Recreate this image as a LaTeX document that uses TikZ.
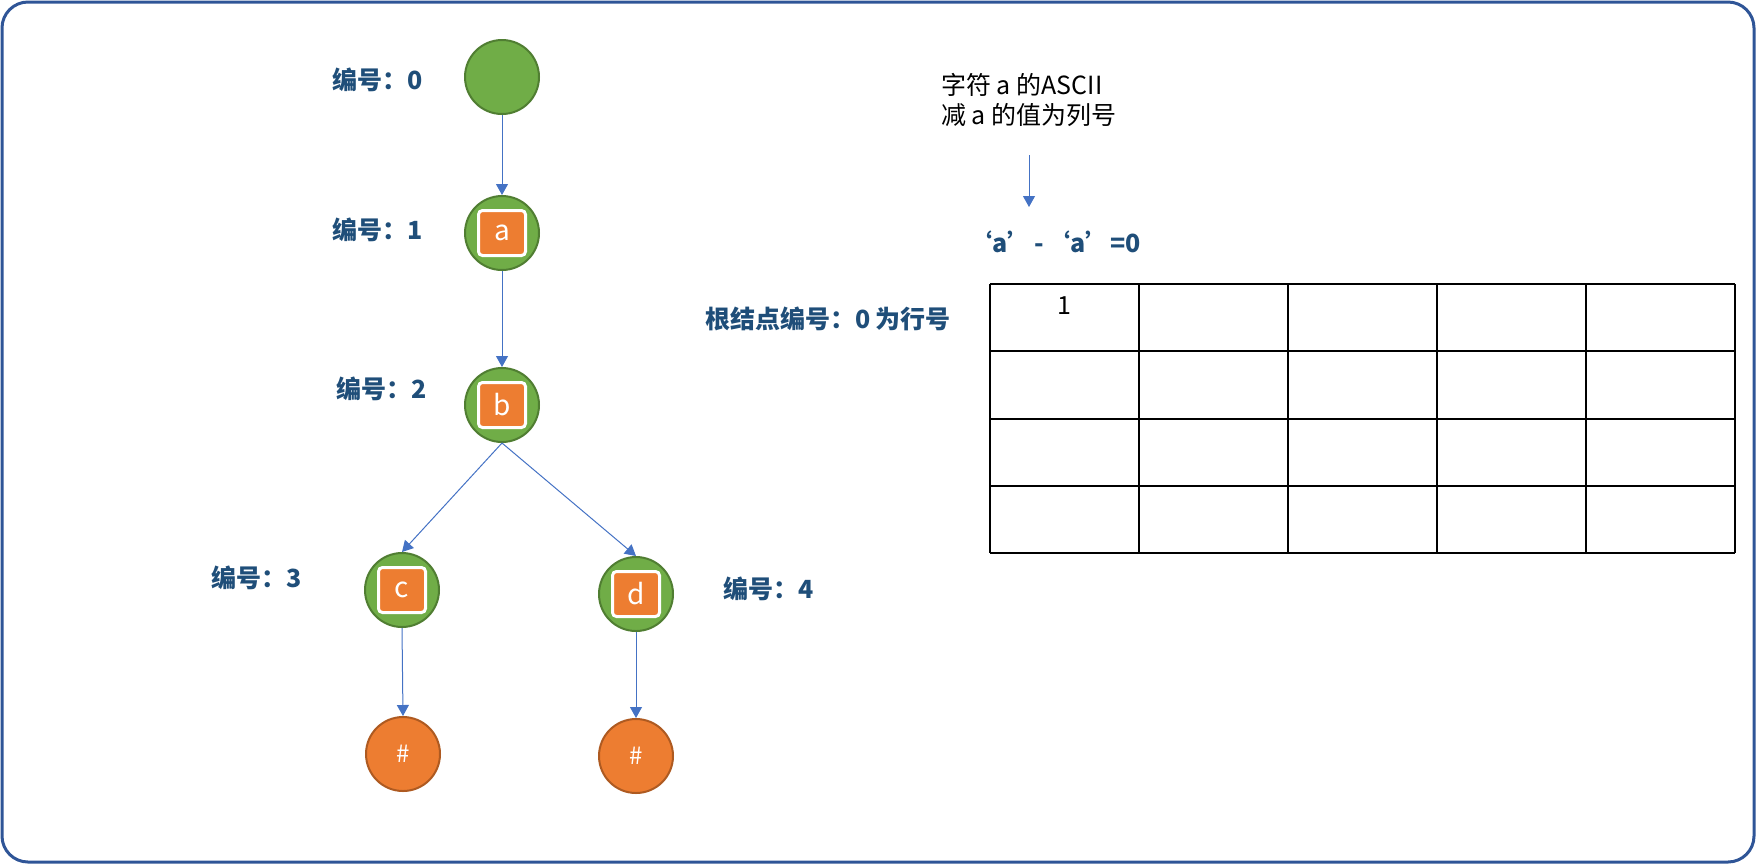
\documentclass[tikz,border=0pt]{standalone}
\usepackage{fontspec}
\setmainfont{Noto Sans CJK SC}
\usetikzlibrary{arrows.meta,positioning}
\definecolor{treegreen}{HTML}{70AD47}
\definecolor{treegreendark}{HTML}{507E32}
\definecolor{keyorange}{HTML}{ED7D31}
\definecolor{keyorangedark}{HTML}{AE5A21}
\definecolor{linkblue}{HTML}{4472C4}
\definecolor{labelblue}{HTML}{1F4E79}
\definecolor{frameblue}{HTML}{2F5597}

\begin{document}
\begin{tikzpicture}[x=0.5pt,y=-0.5pt,
    trie/.style={circle,draw=treegreendark,line width=1pt,fill=treegreen,minimum size=37pt,inner sep=0pt},
    leaf/.style={circle,draw=keyorangedark,line width=1pt,fill=keyorange,minimum size=37pt,inner sep=0pt,text=white,font=\fontsize{12}{14}\selectfont},
    key/.style={rectangle,rounded corners=2pt,draw=white,line width=1.5pt,fill=keyorange,minimum width=23.5pt,minimum height=22.5pt,inner sep=0pt,text=white,font=\fontsize{14}{16}\selectfont},
    idx/.style={text=labelblue,font=\fontsize{12.5}{15}\selectfont\bfseries},
    note/.style={align=left,font=\fontsize{12.5}{15}\selectfont},
    arr/.style={-{Triangle[length=5.5pt,width=6pt]},line width=0.5pt,linkblue}]
  \useasboundingbox (0,0) rectangle (1756,864);
  \draw[frameblue,line width=1.5pt,rounded corners=13pt] (2,2) rectangle (1754,862);
  % trie nodes
  \node[trie] (root) at (502,77) {};
  \node[trie] (na) at (502,233) {};
  \node[trie] (nb) at (502,405) {};
  \node[trie] (nc) at (402,590) {};
  \node[trie] (nd) at (636,594) {};
  \node[key] (ka) at (na) {a};
  \node[key] (kb) at (nb) {b};
  \node[key] (kc) at (nc) {c};
  \node[key] (kd) at (nd) {d};
  \node[leaf] (endc) at (403,754) {\#};
  \node[leaf] (endd) at (636,756) {\#};
  \draw[arr] (root) -- (na);
  \draw[arr] (na) -- (nb);
  \draw[arr] (nb.south) -- (nc.north);
  \draw[arr] (nb.south) -- (nd.north);
  \draw[arr] (nc.south) -- (endc.north);
  \draw[arr] (nd.south) -- (endd.north);
  % numbering
  \node[idx] (id0) at (378,80) {编号：0};
  \node[idx] (id1) at (378,230) {编号：1};
  \node[idx] (id2) at (382,389) {编号：2};
  \node[idx] (id3) at (257,578) {编号：3};
  \node[idx] (id4) at (769,589) {编号：4};
  % array
  \node[note] (ascii) at (1029,100) {字符 a 的ASCII\\减 a 的值为列号};
  \coordinate (tail) at (1029,155);
  \coordinate (head) at (1029,207);
  \draw[arr] (tail) -- (head);
  \node[idx] (diff) at (1054,242) {‘a’\kern-2pt\ -\ \kern-2pt‘a’\kern-3pt\ =0};
  \node[idx] (row) at (828,319) {根结点编号：0 为行号};
  \foreach \i in {0,...,5} \draw[line width=1pt] (990+149*\i,284) -- (990+149*\i,553);
  \foreach \j in {0,...,4} \draw[line width=1pt] (990,284+67.25*\j) -- (1735,284+67.25*\j);
  \node[note] (cell) at (1064,306) {1};
\end{tikzpicture}
\end{document}
